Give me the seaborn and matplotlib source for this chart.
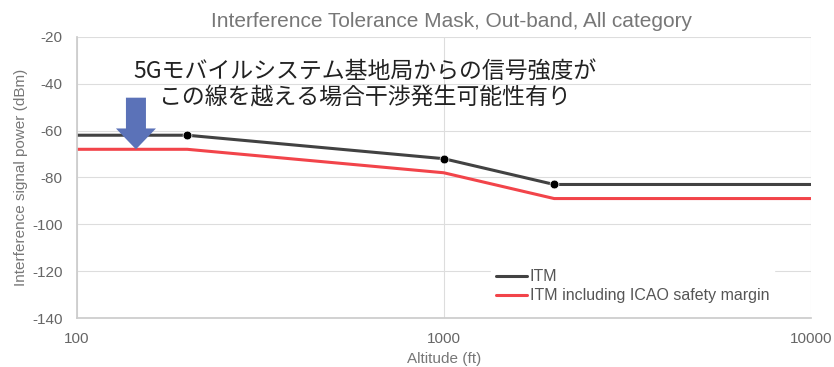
import pandas as pd
import matplotlib.pyplot as plt
import seaborn as sns

# Data
altitude = [100, 200, 1000, 2000, 10000]
itm = [-62, -62, -72, -83, -83]
itm_icao = [-68, -68, -78, -89, -89]
series_names = ["ITM", "ITM including ICAO safety margin"]
y_ticks = [-140, -120, -100, -80, -60, -40, -20]
x_ticks = [100, 1000, 10000]
note_text = "5Gモバイルシステム基地局からの信号強度が\nこの線を越える場合干渉発生可能性有り"
arrow_x = 145
arrow_top, arrow_tip = -46, -68

df = pd.DataFrame({
    "altitude": altitude * 2,
    "power": itm + itm_icao,
    "series": [series_names[0]] * len(altitude) + [series_names[1]] * len(altitude),
})
knees = pd.DataFrame({"altitude": altitude[1:4], "power": itm[1:4]})

sns.set_theme(style="whitegrid")
plt.rcParams['font.family'] = ['Noto Sans CJK JP', 'DejaVu Sans']
plt.rcParams['axes.unicode_minus'] = False

fig, ax = plt.subplots(figsize=(8.34, 3.67), dpi=100)
sns.lineplot(data=df, x="altitude", y="power", hue="series",
             palette=["#424242", "#f2444a"], linewidth=2.2, ax=ax)
sns.scatterplot(data=knees, x="altitude", y="power", color="black",
                s=40, zorder=5, ax=ax, legend=False)

ax.set_xscale("log")
ax.set_xlim(100, 10000)
ax.set_ylim(-140, -20)
ax.set_xticks(x_ticks)
ax.set_xticklabels([str(t) for t in x_ticks])
ax.set_yticks(y_ticks)
ax.minorticks_off()
ax.grid(True, color="#dddddd", linewidth=0.8)
for s in ["top", "right"]:
    ax.spines[s].set_visible(False)
for s in ["left", "bottom"]:
    ax.spines[s].set_color("#cccccc")
ax.tick_params(colors="#666666", labelsize=11, length=0)
ax.tick_params(axis="x", pad=10)
ax.tick_params(axis="y", pad=10)

font = ["Liberation Sans", "DejaVu Sans"]
ax.set_title("Interference Tolerance Mask, Out-band, All category",
             color="#777777", fontsize=15, family=font, pad=7, x=0.51)
ax.set_xlabel("Altitude (ft)", color="#777777", fontsize=11, family=font, labelpad=4)
ax.set_ylabel("Interference signal power (dBm)", color="#777777", fontsize=11, family=font, labelpad=3)
for lab in ax.get_xticklabels() + ax.get_yticklabels():
    lab.set_family(font)

# Note and arrow
ax.text(611, -40.5, note_text, ha="center", va="center", fontsize=16.5,
        color="#222222", linespacing=1.2)
ax.annotate("", xy=(arrow_x, arrow_tip), xytext=(arrow_x, arrow_top),
            arrowprops=dict(arrowstyle="simple,head_width=28.8,head_length=15,tail_width=14.4",
                            mutation_scale=1, shrinkA=0, shrinkB=0,
                            color="#5b72b8", lw=0))

leg = ax.legend(loc="upper left", bbox_to_anchor=(0.565, 0.19), frameon=True,
                facecolor="white", edgecolor="white", framealpha=1,
                fontsize=11.5, handlelength=1.9, handletextpad=0.2,
                borderpad=0.3, labelspacing=0.25, borderaxespad=0)
for t in leg.get_texts():
    t.set_color("#555555")
    t.set_family(font)

fig.subplots_adjust(left=0.092, right=0.972, top=0.9, bottom=0.133)
fig.savefig("out.png", dpi=100)
